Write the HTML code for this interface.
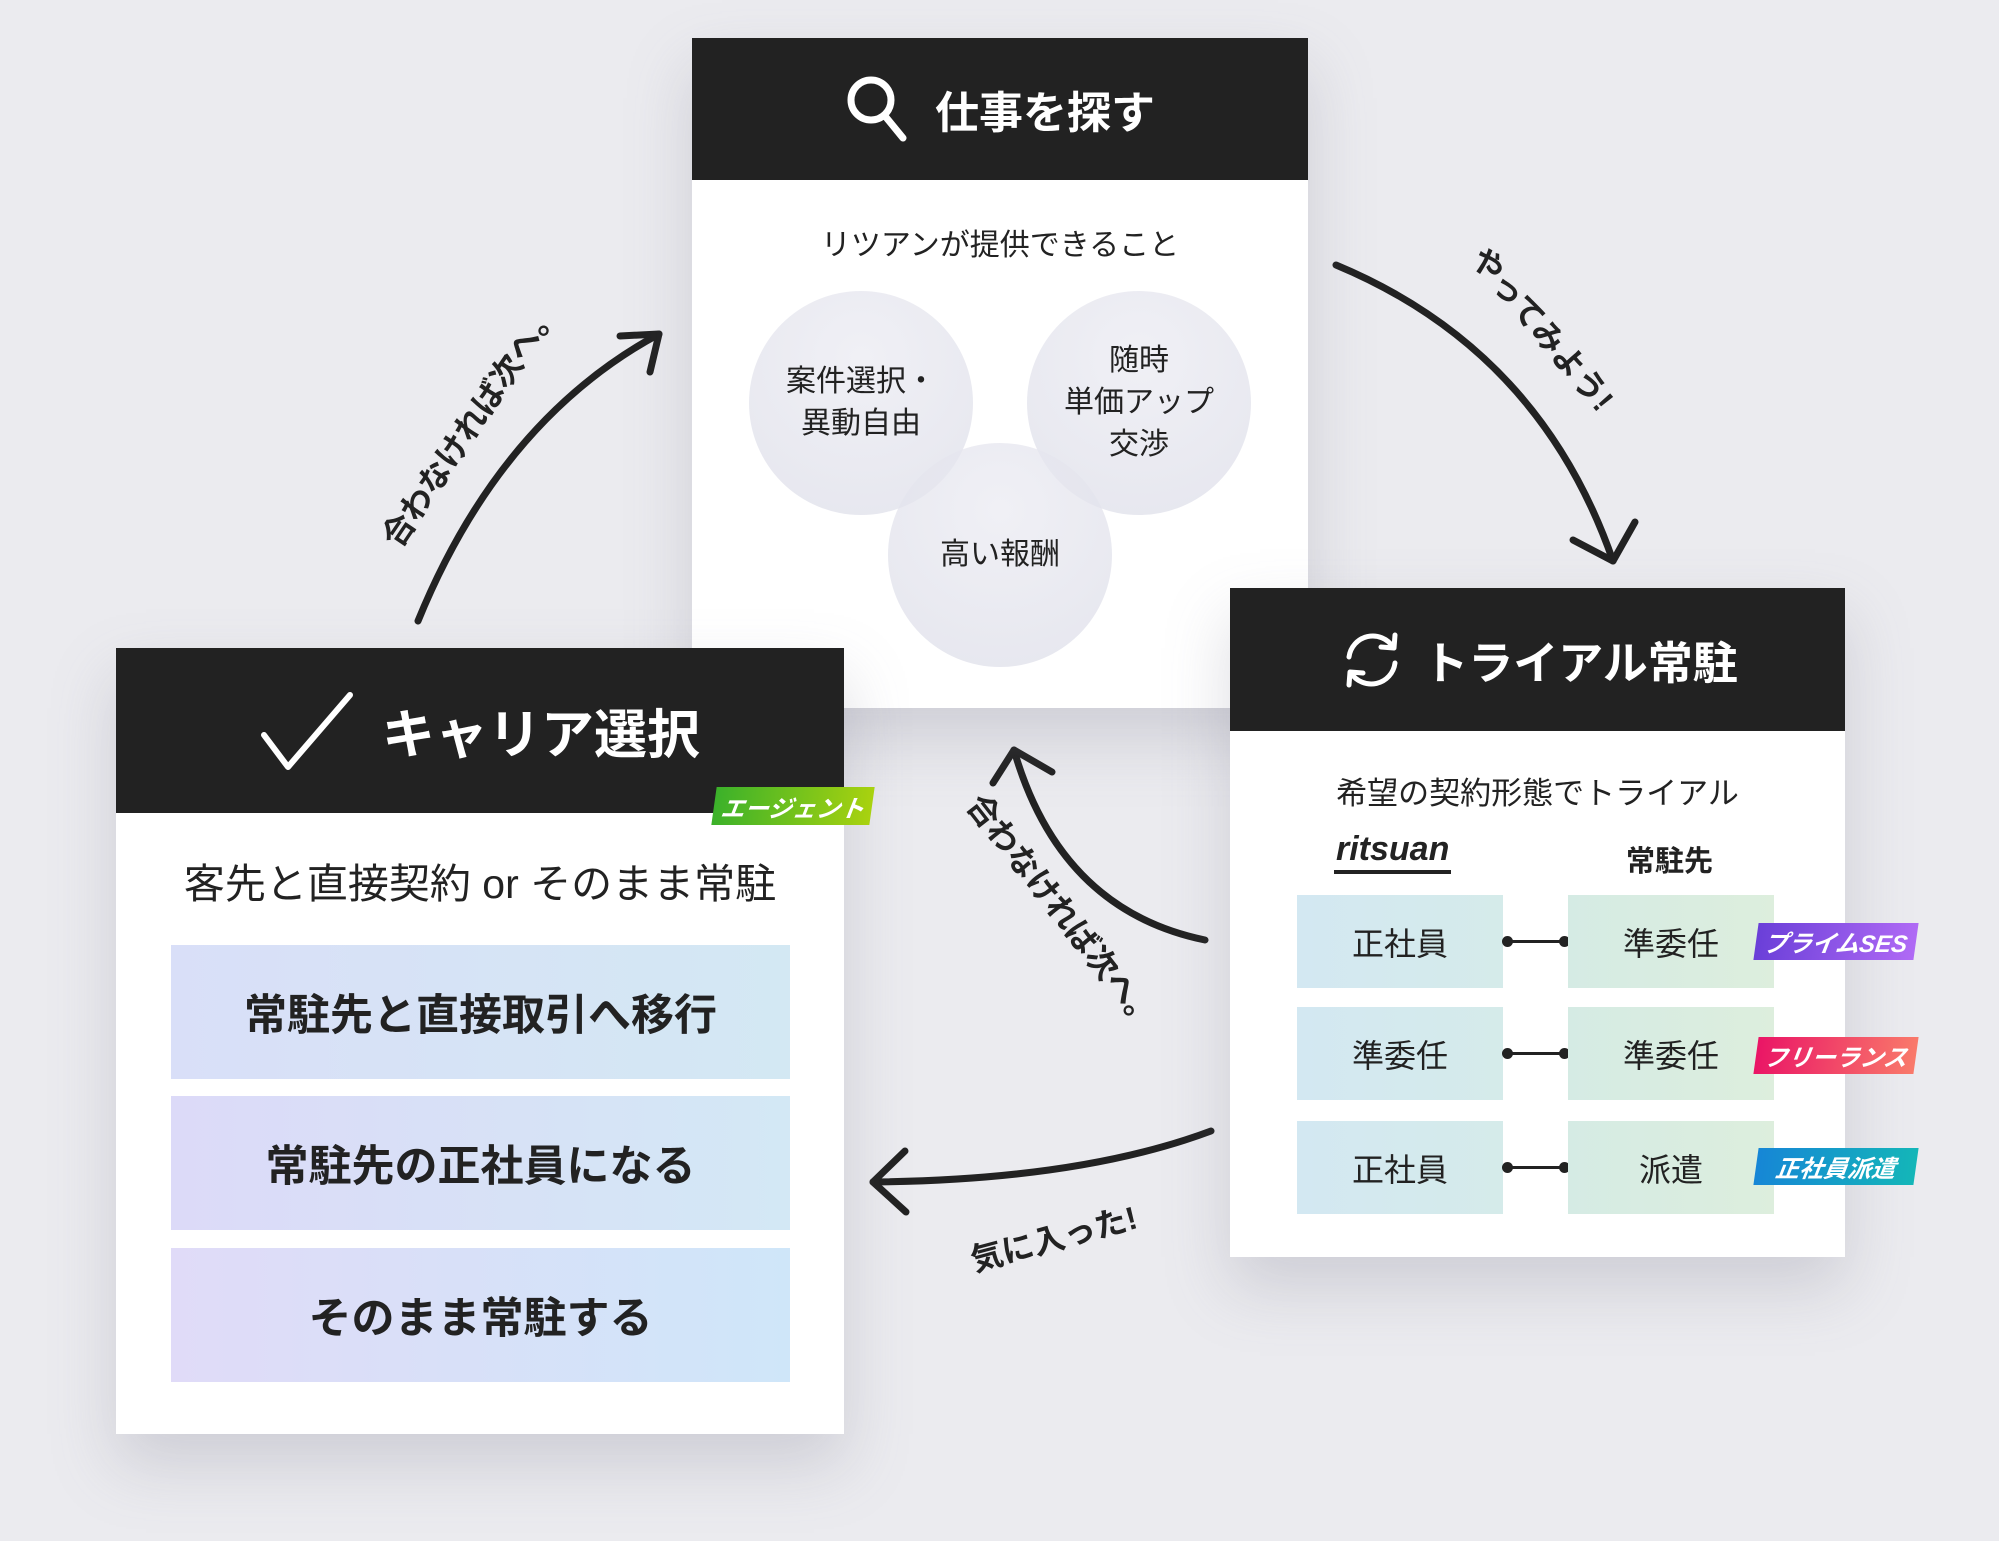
<!DOCTYPE html>
<html><head><meta charset="utf-8"><style>
*{margin:0;padding:0;box-sizing:border-box}
body{width:1999px;height:1541px;background:#ebebef;position:relative;overflow:hidden;font-family:"Liberation Sans","Noto Sans CJK JP",sans-serif;color:#222}
.card{position:absolute;background:#fff;box-shadow:0 30px 60px rgba(120,120,140,.25)}
.hd{position:absolute;left:0;right:0;top:0;background:#222;color:#fff;font-weight:700;display:flex;align-items:center;justify-content:center}
.ab{position:absolute;white-space:nowrap}
.c{position:absolute;width:224px;height:224px;border-radius:50%;background:radial-gradient(circle at 50% 30%,rgba(235,235,242,.75),rgba(220,221,232,.75));display:flex;align-items:center;justify-content:center;text-align:center;font-size:30px;line-height:42px}
.bx{position:absolute;height:93px;display:flex;align-items:center;justify-content:center;font-size:32px}
.l{left:67px;width:206px;background:linear-gradient(90deg,#d3e8f2,#d5ebea)}
.r{left:338px;width:206px;background:linear-gradient(90deg,#d5ebe4,#ddeedd)}
.dl{position:absolute;left:275px;width:62px;height:3px;background:#222}
.dl:before,.dl:after{content:"";position:absolute;top:-4px;width:11px;height:11px;border-radius:50%;background:#222}
.dl:before{left:-3px}.dl:after{right:-3px}
.tag{position:absolute;left:526px;width:160px;height:37px;color:#fff;font-weight:700;font-style:italic;font-size:24px;display:flex;align-items:center;justify-content:center;transform:skewX(-8deg)}
.bar{position:absolute;left:55px;width:619px;height:134px;display:flex;align-items:center;justify-content:center;font-size:43px;font-weight:700}
.lbl{position:absolute;font-size:32px;font-weight:700;white-space:nowrap;transform-origin:center}
</style></head><body>

<svg width="1999" height="1541" style="position:absolute;left:0;top:0" fill="none" stroke="#222" stroke-width="7" stroke-linecap="round" stroke-linejoin="round">
<path d="M418 621 Q500 420 659 334"/><path d="M620 336 L659 334 L650 372"/>
<path d="M1336 265 Q1540 350 1613 561"/><path d="M1573 540 L1613 561 L1635 522"/>
<path d="M1205 940 Q1060 910 1014 750"/><path d="M993 783 L1014 750 L1052 772"/>
<path d="M1211 1131 Q1080 1180 873 1182"/><path d="M905 1151 L873 1182 L906 1212"/>
</svg>

<div class="lbl" style="left:325px;top:400px;transform:rotate(-56deg)">合わなければ次へ。</div>
<div class="lbl" style="left:1443px;top:305px;transform:rotate(50deg)">やってみよう!</div>
<div class="lbl" style="left:920px;top:888px;transform:rotate(52deg)">合わなければ次へ。</div>
<div class="lbl" style="left:968px;top:1214px;transform:rotate(-15deg)">気に入った!</div>

<!-- top card -->
<div class="card" style="left:692px;top:38px;width:616px;height:670px">
 <div class="hd" style="height:142px;font-size:44px">
  <svg width="64" height="70" viewBox="0 0 64 70" style="margin-right:26px" fill="none" stroke="#fff" stroke-width="7" stroke-linecap="round"><circle cx="26" cy="26" r="20"/><path d="M40 42 L58 64"/></svg>仕事を探す</div>
 <div class="ab" style="left:0;right:0;top:182px;text-align:center;font-size:30px">リツアンが提供できること</div>
 <div class="c" style="left:57px;top:253px">案件選択・<br>異動自由</div>
 <div class="c" style="left:335px;top:253px">随時<br>単価アップ<br>交渉</div>
 <div class="c" style="left:196px;top:405px">高い報酬</div>
</div>

<!-- trial card -->
<div class="card" style="left:1230px;top:588px;width:615px;height:669px">
 <div class="hd" style="height:143px;font-size:45px">
  <svg width="70" height="66" viewBox="0 0 70 66" style="margin-right:16px" fill="none" stroke="#fff" stroke-width="5" stroke-linecap="round" stroke-linejoin="round"><path d="M12 30 A24 24 0 0 1 56 20"/><path d="M58 8 L57 21 L44 20"/><path d="M58 36 A24 24 0 0 1 14 46"/><path d="M12 58 L13 45 L26 46"/></svg>トライアル常駐</div>
 <div class="ab" style="left:0;right:0;top:180px;text-align:center;font-size:31px">希望の契約形態でトライアル</div>
 <div class="ab" style="left:104px;top:242px;font-size:34px;font-weight:700;font-style:italic;border-bottom:4px solid #222;line-height:38px;padding:0 2px 2px">ritsuan</div>
 <div class="ab" style="left:396px;top:250px;font-size:29px;font-weight:700">常駐先</div>
 <div class="bx l" style="top:307px">正社員</div><div class="dl" style="top:352px"></div><div class="bx r" style="top:307px">準委任</div>
 <div class="bx l" style="top:419px">準委任</div><div class="dl" style="top:464px"></div><div class="bx r" style="top:419px">準委任</div>
 <div class="bx l" style="top:533px">正社員</div><div class="dl" style="top:578px"></div><div class="bx r" style="top:533px">派遣</div>
</div>
<div class="tag" style="left:1756px;top:923px;background:linear-gradient(90deg,#6a3fd8,#b06af5)">プライムSES</div>
<div class="tag" style="left:1756px;top:1037px;background:linear-gradient(90deg,#ea1566,#f97a6a)">フリーランス</div>
<div class="tag" style="left:1756px;top:1148px;background:linear-gradient(90deg,#1686d6,#14b6b8)">正社員派遣</div>

<!-- career card -->
<div class="card" style="left:116px;top:648px;width:728px;height:786px">
 <div class="hd" style="height:165px;font-size:53px">
  <svg width="96" height="80" viewBox="0 0 96 80" style="margin-right:26px" fill="none" stroke="#fff" stroke-width="6" stroke-linecap="round" stroke-linejoin="round"><path d="M4 44 L28 76 L90 4"/></svg>キャリア選択</div>
 <div class="ab" style="left:0;right:0;top:202px;text-align:center;font-size:41px">客先と直接契約 or そのまま常駐</div>
 <div class="bar" style="top:297px;background:linear-gradient(90deg,#d9dff8,#d3e8f3)">常駐先と直接取引へ移行</div>
 <div class="bar" style="top:448px;background:linear-gradient(90deg,#dcdaf8,#d3e8f5)">常駐先の正社員になる</div>
 <div class="bar" style="top:600px;background:linear-gradient(90deg,#e0dbf8,#cfe6f9)">そのまま常駐する</div>
</div>
<div class="tag" style="left:714px;top:787px;width:158px;height:38px;font-size:24px;background:linear-gradient(90deg,#3bb12a,#a9d20f)">エージェント</div>

</body></html>
